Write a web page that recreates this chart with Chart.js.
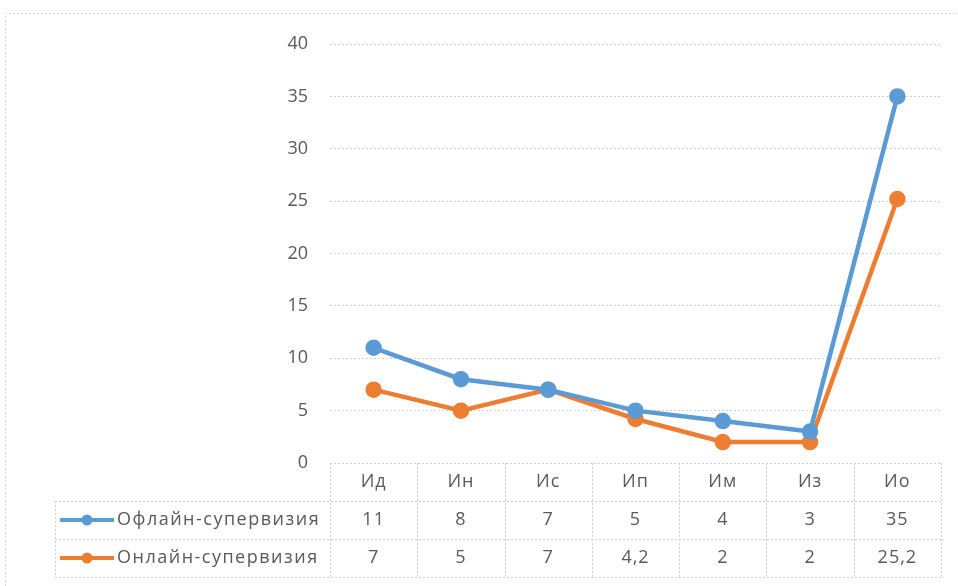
<!DOCTYPE html>
<html lang="ru">
<head>
  <meta charset="UTF-8" />
  <title>Супервизия</title>
  <script src="https://cdn.jsdelivr.net/npm/chart.js"></script>
  <style>
    body { margin: 0; background: #fff; }
    #wrap { position: relative; width: 958px; height: 586px; }
  </style>
</head>
<body>
  <div id="wrap"><canvas id="chart" width="958" height="586"></canvas></div>

  <script>
    const categories = ['Ид', 'Ин', 'Ис', 'Ип', 'Им', 'Из', 'Ио'];
    const offlineName = 'Офлайн-супервизия';
    const onlineName = 'Онлайн-супервизия';
    const offlineValues = [11, 8, 7, 5, 4, 3, 35];
    const onlineValues = [7, 5, 7, 4.2, 2, 2, 25.2];

    const BLUE = '#5B9BD5';
    const ORANGE = '#ED7D31';
    const TEXT = '#595959';
    const GRID = '#d0d0d0';
    const FONT = '"Open Sans", sans-serif';

    function fmt(v) { return String(v).replace('.', ','); }

    // draws the Excel style data table under the plot
    const dataTable = {
      id: 'dataTable',
      beforeDraw(chart) {
        const ctx = chart.ctx;
        ctx.save();
        ctx.strokeStyle = '#d9d9d9';
        ctx.lineWidth = 1;
        ctx.setLineDash([2, 2]);
        ctx.beginPath();
        ctx.moveTo(5.5, 586); ctx.lineTo(5.5, 13.5); ctx.lineTo(958, 13.5);
        ctx.stroke();
        ctx.restore();
      },
      afterDraw(chart) {
        const ctx = chart.ctx;
        const area = chart.chartArea;
        const x = chart.scales.x;
        const colW = (area.right - area.left) / categories.length;
        const rowH = 38;
        const top = area.bottom;
        const legendLeft = 55;

        ctx.save();
        ctx.strokeStyle = GRID;
        ctx.lineWidth = 1;
        ctx.setLineDash([2, 2]);
        ctx.beginPath();
        // horizontal lines
        ctx.moveTo(area.left, top + 0.5); ctx.lineTo(area.right, top + 0.5);
        for (let r = 1; r <= 3; r++) {
          const y = Math.round(top + r * rowH) + 0.5;
          ctx.moveTo(legendLeft, y); ctx.lineTo(area.right, y);
        }
        // vertical lines
        for (let c = 0; c <= categories.length; c++) {
          const xx = Math.round(area.left + c * colW) + 0.5;
          ctx.moveTo(xx, top); ctx.lineTo(xx, top + 3 * rowH);
        }
        ctx.moveTo(legendLeft + 0.5, top + rowH); ctx.lineTo(legendLeft + 0.5, top + 3 * rowH);
        ctx.stroke();
        ctx.setLineDash([]);

        ctx.fillStyle = TEXT;
        ctx.font = '18px ' + FONT;
        ctx.letterSpacing = '1px';
        ctx.textAlign = 'center';
        ctx.textBaseline = 'middle';
        categories.forEach((c, i) => {
          const cx = x.getPixelForValue(i);
          ctx.fillText(c, cx, top + rowH / 2);
          ctx.fillText(fmt(offlineValues[i]), cx, top + rowH * 1.5);
          ctx.fillText(fmt(onlineValues[i]), cx, top + rowH * 2.5);
        });

        // legend keys
        ctx.letterSpacing = '1.5px';
        [[offlineName, BLUE], [onlineName, ORANGE]].forEach(([name, col], r) => {
          const cy = top + rowH * (1.5 + r);
          ctx.strokeStyle = col;
          ctx.lineWidth = 4;
          ctx.beginPath();
          ctx.moveTo(60, cy); ctx.lineTo(114, cy);
          ctx.stroke();
          ctx.fillStyle = col;
          ctx.beginPath();
          ctx.arc(87, cy, 5.5, 0, Math.PI * 2);
          ctx.fill();
          ctx.fillStyle = TEXT;
          ctx.textAlign = 'left';
          ctx.fillText(name, 117, cy);
        });
        ctx.restore();
      }
    };

    new Chart(document.getElementById('chart'), {
      type: 'line',
      data: {
        labels: categories,
        datasets: [
          { label: offlineName, data: offlineValues, borderColor: BLUE, backgroundColor: BLUE,
            borderWidth: 4.5, pointRadius: 6, pointHoverRadius: 6, tension: 0 },
          { label: onlineName, data: onlineValues, borderColor: ORANGE, backgroundColor: ORANGE,
            borderWidth: 4.5, pointRadius: 6, pointHoverRadius: 6, tension: 0 }
        ]
      },
      options: {
        responsive: false,
        animation: false,
        devicePixelRatio: 1,
        layout: { padding: { left: 0, right: 17, top: 44, bottom: 123 } },
        plugins: { legend: { display: false }, tooltip: { enabled: false } },
        scales: {
          x: { display: false, offset: true },
          y: {
            min: 0, max: 40,
            afterFit(s) { s.width = 330; },
            ticks: { stepSize: 5, color: TEXT, padding: 22, font: { family: FONT, size: 18 } },
            grid: { color: GRID, drawTicks: false, tickBorderDash: [2, 2] },
            border: { display: false, dash: [2, 2] }
          }
        }
      },
      plugins: [dataTable]
    });
  </script>
</body>
</html>
